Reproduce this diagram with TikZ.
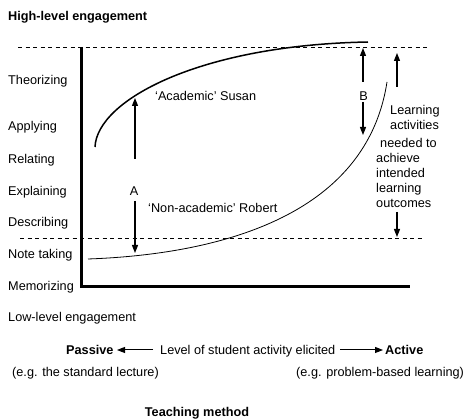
\documentclass[tikz,border=0pt]{standalone}
\usepackage{fontspec}
\setmainfont{Liberation Sans}
\usetikzlibrary{arrows.meta}
\begin{document}
\begin{tikzpicture}[x=1pt,y=-1pt,
  lbl/.style={inner sep=0pt, font=\fontsize{12.7}{15}\selectfont, anchor=base west},
  blbl/.style={lbl, font=\fontsize{12.7}{15}\selectfont\bfseries},
  clbl/.style={lbl, anchor=base},
  dashline/.style={dash pattern=on 4pt off 3.5pt, line width=0.9pt},
  axisline/.style={line width=3pt, line join=miter},
  arr/.style={-{Triangle[length=8pt,width=6pt]}, line width=1.3pt},
  sarr/.style={-{Triangle[length=8pt,width=6pt]}, line width=1pt},
]
\useasboundingbox (0,0) rectangle (464,419);
\fill[white] (0,0) rectangle (464,419);

% top and left labels
\node[blbl] (high) at (8,20.5) {High-level engagement};
\node[lbl] (theo) at (8,84.5) {Theorizing};
\node[lbl] (appl) at (8,131) {Applying};
\node[lbl] (rela) at (8,163.5) {Relating};
\node[lbl] (expl) at (8,195.5) {Explaining};
\node[lbl] (desc) at (8,226.5) {Describing};
\node[lbl] (note) at (8,258.5) {Note taking};
\node[lbl] (memo) at (8,290.5) {Memorizing};

% dashed reference lines
\coordinate (dt1) at (18,47);
\coordinate (dt2) at (427,47);
\coordinate (db1) at (20,238.5);
\coordinate (db2) at (422,238.5);
\draw[dashline] (dt1) -- (dt2);
\draw[dashline] (db1) -- (db2);

% axes
\coordinate (ytop) at (81,47);
\coordinate (orig) at (81,287);
\coordinate (xend) at (410,287);
\draw[axisline] (ytop) -- (orig) -- (xend);

% curves
\coordinate (s0) at (95,147);
\coordinate (s1) at (368,42);
\draw[line width=1.5pt] (s0) .. controls (97,100) and (200,45) .. (s1);
\coordinate (r0) at (88,259);
\coordinate (r1) at (387,82);
\draw[line width=0.8pt] (r0) .. controls (200,255) and (365,225) .. (r1);

% curve labels
\node[lbl] (susan) at (155,100.5) {‘Academic’ Susan};
\node[lbl] (robert) at (148,212.5) {‘Non-academic’ Robert};

% arrow A
\node[clbl] (A) at (134,195.5) {A};
\coordinate (a1) at (135,159);
\coordinate (a2) at (135,98);
\coordinate (a3) at (135,201);
\coordinate (a4) at (135,253);
\draw[arr] (a1) -- (a2);
\draw[arr] (a3) -- (a4);

% arrow B
\node[clbl] (B) at (363.5,100.5) {B};
\coordinate (b1) at (363,82);
\coordinate (b2) at (363,48);
\coordinate (b3) at (363,102);
\coordinate (b4) at (363,135);
\draw[arr] (b1) -- (b2);
\draw[arr] (b3) -- (b4);

% right arrows and text
\coordinate (c1) at (397,87);
\coordinate (c2) at (397,53);
\coordinate (c3) at (397,212);
\coordinate (c4) at (397,237);
\draw[arr] (c1) -- (c2);
\draw[arr] (c3) -- (c4);
\node[lbl] (t1) at (390,114.5) {Learning};
\node[lbl] (t2) at (390,130) {activities};
\node[lbl] (t3) at (380,147.5) {needed to};
\node[lbl] (t4) at (376,162.5) {achieve};
\node[lbl] (t5) at (376,177.5) {intended};
\node[lbl] (t6) at (376,192.5) {learning};
\node[lbl] (t7) at (376,207.5) {outcomes};

% bottom
\node[lbl] (low) at (8,322) {Low-level engagement};
\node[blbl] (passive) at (66,354.5) {Passive};
\node[lbl] (level) at (160,354.5) {Level of student activity elicited};
\node[blbl] (active) at (385,354.5) {Active};
\coordinate (p1) at (153,350);
\coordinate (p2) at (117,350);
\coordinate (q1) at (340,350);
\coordinate (q2) at (383,350);
\draw[sarr] (p1) -- (p2);
\draw[sarr] (q1) -- (q2);
\node[lbl] (eg1) at (12,376.5) {(e.g. the standard lecture)};
\node[lbl] (eg2) at (296,376.5) {(e.g. problem-based learning)};
\node[blbl, anchor=base] (tm) at (197,417) {Teaching method};
\end{tikzpicture}
\end{document}
